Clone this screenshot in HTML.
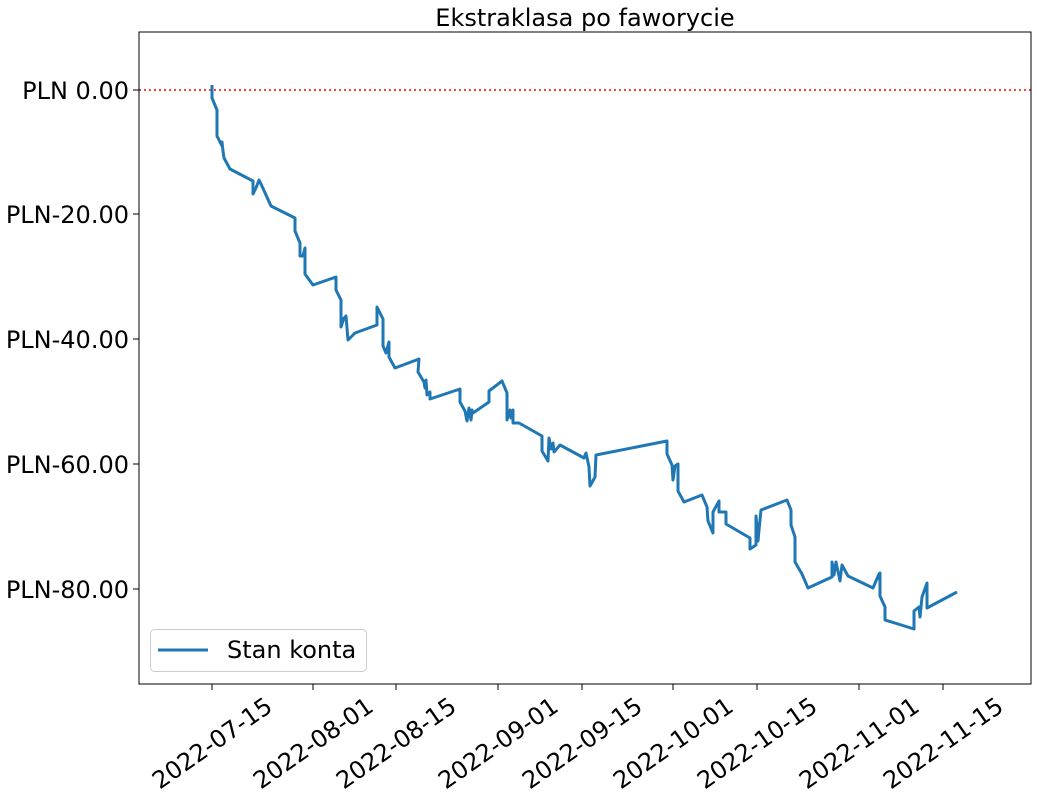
<!DOCTYPE html>
<html><head><meta charset="utf-8"><style>body{margin:0;background:#fff}svg{display:block}text{font-family:"DejaVu Sans",sans-serif;fill:#000}</style></head><body>
<svg width="1037" height="798" viewBox="0 0 1037 798">
<text x="585" y="26" font-size="24" text-anchor="middle">Ekstraklasa po faworycie</text>
<line x1="139" y1="90" x2="1031" y2="90" stroke="#ff0000" stroke-width="1.5" stroke-dasharray="2,3"/>
<polyline fill="none" stroke="#1f77b4" stroke-width="3" stroke-linejoin="round" points="212,85 212,98 217,110 217,136 222,146 222,142 223,151 224,158 230,169 253,181 253,194 256,188 259,180 261,184 271,206 295,218 295,231 300,243 300,256 303,256 305,248 305,274 313,285 336,277 336,290 341,300 341,327 344,318 346,316 348,340 355,333 377,325 377,307 383,319 383,346 386,353 389,342 389,357 395,368 419,359 418,372 424,382 425,388 426,380 427,395 430,392 430,399 460,389 460,402 465,411 467,421 469,408 471,420 472,410 473,413 489,402 489,391 502,381 507,393 507,420 510,410 511,418 513,410 513,423 519,423 542,436 542,451 548,461 549,438 551,449 553,443 554,452 560,445 584,458 586,453 589,467 590,486 595,477 596,455 667,441 667,454 672,465 673,480 675,466 678,464 678,491 684,502 702,495 707,507 708,521 713,533 713,512 719,501 719,512 726,512 726,524 750,538 750,549 756,545 756,516 758,541 759,530 761,510 787,500 791,510 791,525 795,537 795,562 802,574 808,588 832,577 832,562 834,575 836,562 840,581 842,565 848,576 873,588 879,574 880,573 880,596 885,607 885,620 914,629 914,611 919,607 920,617 922,597 927,583 927,608 957,592"/>
<rect x="139" y="32" width="892" height="652" fill="none" stroke="#000" stroke-width="1"/>
<g stroke="#000" stroke-width="1">
<line x1="133" y1="90" x2="139" y2="90"/><line x1="133" y1="214" x2="139" y2="214"/><line x1="133" y1="339" x2="139" y2="339"/><line x1="133" y1="464" x2="139" y2="464"/><line x1="133" y1="589" x2="139" y2="589"/>
<line x1="212" y1="684" x2="212" y2="690"/><line x1="313" y1="684" x2="313" y2="690"/><line x1="396" y1="684" x2="396" y2="690"/><line x1="498" y1="684" x2="498" y2="690"/><line x1="582" y1="684" x2="582" y2="690"/><line x1="673" y1="684" x2="673" y2="690"/><line x1="757" y1="684" x2="757" y2="690"/><line x1="859" y1="684" x2="859" y2="690"/><line x1="943" y1="684" x2="943" y2="690"/>
</g>
<g font-size="24" text-anchor="end">
<text x="129" y="99">PLN 0.00</text><text x="129" y="223">PLN-20.00</text><text x="129" y="348">PLN-40.00</text><text x="129" y="473">PLN-60.00</text><text x="129" y="598">PLN-80.00</text>
</g>
<g font-size="24" text-anchor="middle">
<text transform="translate(212,743) rotate(-35)" dy="0.35em">2022-07-15</text>
<text transform="translate(313,743) rotate(-35)" dy="0.35em">2022-08-01</text>
<text transform="translate(396,743) rotate(-35)" dy="0.35em">2022-08-15</text>
<text transform="translate(498,743) rotate(-35)" dy="0.35em">2022-09-01</text>
<text transform="translate(582,743) rotate(-35)" dy="0.35em">2022-09-15</text>
<text transform="translate(673,743) rotate(-35)" dy="0.35em">2022-10-01</text>
<text transform="translate(757,743) rotate(-35)" dy="0.35em">2022-10-15</text>
<text transform="translate(859,743) rotate(-35)" dy="0.35em">2022-11-01</text>
<text transform="translate(943,743) rotate(-35)" dy="0.35em">2022-11-15</text>
</g>
<rect x="150.5" y="629.5" width="216" height="42" rx="4" fill="#fff" stroke="#ccc"/>
<line x1="158" y1="650" x2="208" y2="650" stroke="#1f77b4" stroke-width="3"/>
<text x="227" y="658" font-size="24">Stan konta</text>
</svg>
</body></html>
